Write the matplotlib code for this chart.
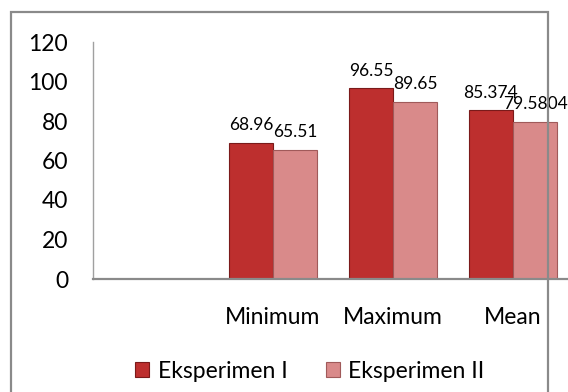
import numpy as np
import matplotlib
matplotlib.use('Agg')
import matplotlib.pyplot as plt
from matplotlib.patches import Rectangle

categories = ['', 'Minimum', 'Maximum', 'Mean']
eksperimen_1 = [np.nan, 68.96, 96.55, 85.374]
eksperimen_2 = [np.nan, 65.51, 89.65, 79.5804]
series_names = ['Eksperimen I', 'Eksperimen II']
y_ticks = [0, 20, 40, 60, 80, 100, 120]

plt.rcParams['font.family'] = ['Lato', 'DejaVu Sans']

fig = plt.figure(figsize=(5.68, 3.92), dpi=100)
# frame around the chart (bottom edge is cut off in the page)
fig.patches.append(Rectangle((11 / 568, -0.05), 537 / 568, 1.05 - 12 / 392,
                             transform=fig.transFigure, fill=False,
                             edgecolor='#8a8a8a', linewidth=1.6, clip_on=False))

ax = fig.add_axes([93 / 568, 1 - 279 / 392, 480 / 568, 237 / 392])
x = np.arange(len(categories))
w = 0.367

b1 = ax.bar(x - w / 2, eksperimen_1, w, color='#bd2f2e', edgecolor='#7a1a1a',
            linewidth=0.8, label=series_names[0])
b2 = ax.bar(x + w / 2, eksperimen_2, w, color='#d98a8a', edgecolor='#a05a5a',
            linewidth=0.8, label=series_names[1])

for bars, vals in [(b1, eksperimen_1), (b2, eksperimen_2)]:
    labels = ['' if np.isnan(v) else f'{v:g}' for v in vals]
    ax.bar_label(bars, labels=labels, padding=7, fontsize=12.5)

ax.set_xlim(-0.5, 3.5)
ax.set_ylim(0, 120)
ax.set_yticks(y_ticks)
ax.set_xticks(x)
ax.set_xticklabels(categories)
ax.tick_params(axis='y', length=0, pad=18, labelsize=16.5)
ax.tick_params(axis='x', length=0, pad=20, labelsize=16.5)

for s in ['top', 'right']:
    ax.spines[s].set_visible(False)
ax.spines['left'].set_color('#a0a0a0')
ax.spines['left'].set_linewidth(1.0)
ax.spines['bottom'].set_color('#8a8a8a')
ax.spines['bottom'].set_linewidth(1.6)

fig.legend(handles=[b1, b2], labels=series_names, loc='center',
           bbox_to_anchor=(310 / 568, 1 - 371 / 392), ncol=2, frameon=False,
           fontsize=16.5, handlelength=0.62, handleheight=0.62,
           handletextpad=0.35, columnspacing=1.7)

fig.savefig('out.png', dpi=100)
